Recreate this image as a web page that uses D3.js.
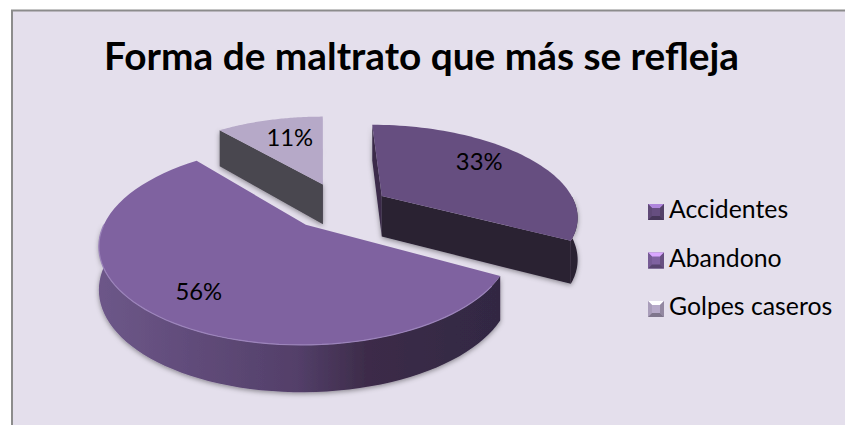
<!DOCTYPE html>
<html>
<head>
<meta charset="utf-8">
<script src="https://cdn.jsdelivr.net/npm/d3@7"></script>
<style>
  html, body { margin: 0; padding: 0; background: #fff; overflow: hidden; }
  svg { display: block; }
  text { font-family: Lato, "Open Sans", sans-serif; fill: #000; }
</style>
</head>
<body>
<div id="chart"></div>
<script>
////// Data
var chartTitle = "Forma de maltrato que más se refleja";
var categories = ["Accidentes", "Abandono", "Golpes caseros"];
var shares = [33, 56, 11];
var sliceColors = ["#664e80", "#7f62a0", "#b6a9c8"];
var sideColors = ["#2a2033", "#322843", "#4a4650"];

var width = 845,
    height = 425;

var svg = d3.select("#chart")
    .append("svg")
    .attr("width", width)
    .attr("height", height);

var defs = svg.append("defs");

// soft shadow under the walls
var blur = defs.append("filter")
    .attr("id", "soft")
    .attr("x", "-10%").attr("y", "-10%")
    .attr("width", "120%").attr("height", "125%");
blur.append("feDropShadow")
    .attr("dx", 0).attr("dy", 1.5)
    .attr("stdDeviation", 2.5)
    .attr("flood-color", "#000")
    .attr("flood-opacity", 0.4);

// shading of the big slice's outer wall
var wallGrad = defs.append("linearGradient")
    .attr("id", "wall")
    .attr("gradientUnits", "userSpaceOnUse")
    .attr("x1", 97).attr("x2", 498).attr("y1", 0).attr("y2", 0);
[[0, "#6d5789"], [0.5, "#533f69"], [0.68, "#3c2b48"], [1, "#322843"]].forEach(function (s) {
    wallGrad.append("stop").attr("offset", s[0]).attr("stop-color", s[1]);
});

// chart area runs off the right and bottom of the picture
svg.append("rect")
    .attr("x", 12).attr("y", 10.5)
    .attr("width", width).attr("height", height)
    .attr("fill", "#e4dfec")
    .attr("stroke", "#8c8c8c")
    .attr("stroke-width", 2);

svg.append("text")
    .attr("x", 421.5)
    .attr("y", 70)
    .attr("text-anchor", "middle")
    .attr("font-weight", 700)
    .attr("font-size", 38.8)
    .text(chartTitle);

// tilted pie: unit circle is projected with a little perspective
var cx = 322, cy = 220, radiusX = 200, radiusY = 94, persp = 0.2;

function project(u, v, drop) {
    var s = 1 / (1 + persp * v);
    var depth = drop ? 42 * (1 - 0.12 * v) : 0;
    return [cx + radiusX * u * s, cy - radiusY * v * s + depth];
}

// how far each slice is pulled from the centre, in unit circle terms
var pull = [[0.315, 0.27], [-0.08, -0.05], [0.005, 0.41]];
// where the value label sits inside its slice, as a fraction of the radius
var labelAt = [[0.655, 0.63], [0.7, 0.88], [0.58, 0.557]];

var pie = d3.pie().sort(null).value(function (d) { return d; });
var arcs = pie(shares);
var line = d3.line();

function rimPoints(d, i, from, to, drop) {
    var steps = d3.range(0, 61).map(function (k) { return from + (to - from) * k / 60; });
    return steps.map(function (a) {
        return project(Math.sin(a) + pull[i][0], Math.cos(a) + pull[i][1], drop);
    });
}

function tip(i, drop) {
    return project(pull[i][0], pull[i][1], drop);
}

function wall(d, i, from, to) {
    var a = rimPoints(d, i, from, to, false);
    var b = rimPoints(d, i, from, to, true).reverse();
    return line(a.concat(b)) + "Z";
}

function edge(d, i, a) {
    var p = project(Math.sin(a) + pull[i][0], Math.cos(a) + pull[i][1], false);
    var q = project(Math.sin(a) + pull[i][0], Math.cos(a) + pull[i][1], true);
    return line([tip(i, false), p, q, tip(i, true)]) + "Z";
}

function topFace(d, i) {
    return line([tip(i, false)].concat(rimPoints(d, i, d.startAngle, d.endAngle, false))) + "Z";
}

// back slice first, big front slice last
[2, 0, 1].forEach(function (i) {
    var d = arcs[i];
    var g = svg.append("g").attr("class", "slice");
    var walls = g.append("g").attr("filter", "url(#soft)");

    if (i === 0) {
        // back strip, cut edge and the short piece of outer wall
        walls.append("path").attr("d", edge(d, i, d.startAngle)).attr("fill", "#3a2c49");
        walls.append("path").attr("d", edge(d, i, d.endAngle)).attr("fill", sideColors[i]);
        walls.append("path").attr("d", wall(d, i, Math.PI / 2, d.endAngle)).attr("fill", sideColors[i]);
    } else if (i === 1) {
        walls.append("path").attr("d", wall(d, i, d.startAngle, Math.PI * 1.5)).attr("fill", "url(#wall)");
    } else {
        walls.append("path").attr("d", edge(d, i, d.endAngle)).attr("fill", "#8d8799");
        walls.append("path").attr("d", edge(d, i, d.startAngle)).attr("fill", sideColors[i]);
    }

    g.append("path").attr("d", topFace(d, i)).attr("fill", sliceColors[i]);

    if (i === 1) {
        // light bevel along the near rim
        g.append("path")
            .attr("d", line(rimPoints(d, i, d.startAngle + 0.1, Math.PI * 1.5, false)))
            .attr("fill", "none")
            .attr("stroke", "#9c84bb")
            .attr("stroke-width", 1.2);
    }

    // value label sits on the top face
    var mid = (d.startAngle + d.endAngle) / 2;
    var pos = project(Math.sin(mid) * labelAt[i][0] + pull[i][0], Math.cos(mid) * labelAt[i][1] + pull[i][1], false);
    g.append("text")
        .attr("x", pos[0])
        .attr("y", pos[1])
        .attr("text-anchor", "middle")
        .attr("font-size", 23.8)
        .text(d.data + "%");
});

// legend with bevelled keys
var legendY = d3.scalePoint().domain(categories).range([218, 315]);
var key = 16;

var legend = svg.selectAll(".legend-item")
    .data(categories)
    .enter()
    .append("g")
    .attr("class", "legend-item")
    .attr("transform", function (d) { return "translate(648," + legendY(d) + ")"; });

legend.each(function (d, i) {
    var g = d3.select(this);
    var base = d3.color(sliceColors[i]);
    var top = -14, bot = top + key, inner = 4;
    var x0 = 0, x1 = key;
    var sides = [
        [[x0, top], [x1, top], [x1 - inner, top + inner], [x0 + inner, top + inner], base.brighter(1.5)],
        [[x0, top], [x0 + inner, top + inner], [x0 + inner, bot - inner], [x0, bot], base.darker(0.2)],
        [[x1, top], [x1 - inner, top + inner], [x1 - inner, bot - inner], [x1, bot], base.darker(0.6)],
        [[x0, bot], [x0 + inner, bot - inner], [x1 - inner, bot - inner], [x1, bot], base.darker(1)]
    ];
    g.append("rect")
        .attr("x", x0).attr("y", top)
        .attr("width", key).attr("height", key)
        .attr("fill", base);
    sides.forEach(function (s) {
        g.append("path").attr("d", line(s.slice(0, 4)) + "Z").attr("fill", s[4]);
    });
});

legend.append("text")
    .attr("x", 21)
    .attr("font-size", 24.8)
    .text(function (d) { return d; });
</script>
</body>
</html>
